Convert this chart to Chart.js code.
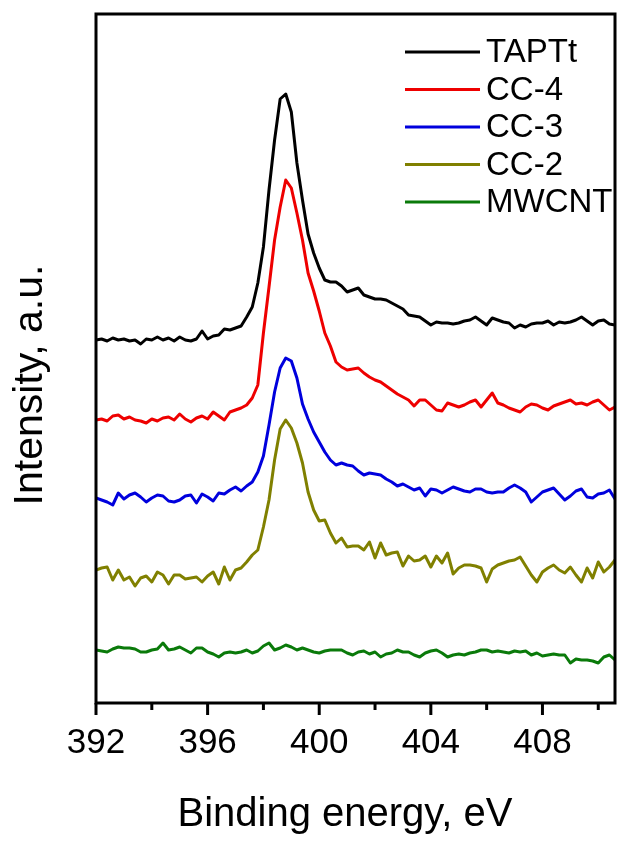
<!DOCTYPE html>
<html>
<head>
<meta charset="utf-8">
<script src="https://cdn.jsdelivr.net/npm/chart.js@4.4.1/dist/chart.umd.min.js"></script>
<style>
  html, body { margin: 0; padding: 0; background: #fff; }
  #wrap { width: 621px; height: 841px; position: relative; }
</style>
</head>
<body>
<div id="wrap"><canvas id="c"></canvas></div>
<script>
// Binding energy grid, eV
const energy = [
  392.0, 392.2, 392.4, 392.6, 392.8, 393.0, 393.2, 393.4, 393.6, 393.8,
  394.0, 394.2, 394.4, 394.6, 394.8, 395.0, 395.2, 395.4, 395.6, 395.8,
  396.0, 396.2, 396.4, 396.6, 396.8, 397.0, 397.2, 397.4, 397.6, 397.8,
  398.0, 398.2, 398.4, 398.6, 398.8, 399.0, 399.2, 399.4, 399.6, 399.8,
  400.0, 400.2, 400.4, 400.6, 400.8, 401.0, 401.2, 401.4, 401.6, 401.8,
  402.0, 402.2, 402.4, 402.6, 402.8, 403.0, 403.2, 403.4, 403.6, 403.8,
  404.0, 404.2, 404.4, 404.6, 404.8, 405.0, 405.2, 405.4, 405.6, 405.8,
  406.0, 406.2, 406.4, 406.6, 406.8, 407.0, 407.2, 407.4, 407.6, 407.8,
  408.0, 408.2, 408.4, 408.6, 408.8, 409.0, 409.2, 409.4, 409.6, 409.8,
  410.0, 410.2, 410.4, 410.6
];

// Labelled and unlabelled tick positions on the energy axis
const majorTicks = [392, 396, 400, 404, 408];
const minorTicks = [394, 398, 402, 406, 410];

// N 1s intensities (offset, arbitrary units)
const taptt = [
  363,364,362,365,363,364,362,363,359,364,
  363,366,363,365,362,366,363,362,364,372,
  364,367,368,374,373,375,377,386,396,420,
  456,513,563,604,609,591,540,503,469,450,
  435,423,421,421,417,411,413,415,408,406,
  404,404,403,400,397,394,388,387,386,382,
  378,381,380,380,379,380,382,383,386,382,
  378,385,383,381,380,375,378,376,379,380,
  380,382,378,381,380,381,383,386,382,378,
  382,383,379,378
];
const cc4 = [
  283,284,282,287,288,284,286,283,282,280,
  284,282,285,286,283,289,284,281,285,287,
  284,291,287,283,291,293,295,298,305,318,
  370,416,463,496,523,515,490,463,430,412,
  392,370,357,341,336,333,334,335,330,326,
  323,321,317,313,309,306,303,297,303,303,
  298,293,292,300,298,296,298,301,303,296,
  303,310,300,298,295,293,291,296,299,298,
  295,293,297,299,301,303,299,300,298,301,
  303,298,293,296
];
const cc3 = [
  205,203,201,198,210,204,208,210,206,201,
  205,208,207,202,201,203,207,208,200,209,
  206,202,210,209,213,216,212,217,221,231,
  247,278,311,335,345,342,325,299,284,271,
  261,251,243,238,240,238,237,232,228,230,
  229,228,224,221,217,219,216,213,215,207,
  214,213,210,213,216,214,212,211,214,214,
  211,210,211,211,215,218,215,211,201,206,
  211,213,215,209,203,207,212,214,206,205,
  209,210,213,204
];
const cc2 = [
  133,135,136,123,133,123,126,117,125,127,
  121,131,128,119,128,128,124,125,126,121,
  127,131,119,136,123,133,135,141,148,153,
  176,203,243,274,283,275,260,240,211,193,
  182,183,170,160,165,156,157,157,153,161,
  145,160,148,150,151,137,147,142,143,147,
  136,147,140,150,129,135,138,138,137,135,
  121,134,138,140,142,143,146,137,128,121,
  131,135,138,133,130,136,128,121,135,125,
  141,131,136,143
];
const mwcnt = [
  53,52,51,54,56,55,55,54,51,51,
  53,54,60,53,54,56,53,50,55,55,
  51,49,46,50,51,50,51,53,50,52,
  57,60,53,55,58,56,53,55,53,51,
  50,52,53,53,53,50,48,51,52,49,
  51,46,49,50,53,51,51,48,46,50,
  52,53,50,46,48,49,48,50,51,53,
  53,51,52,51,50,52,51,52,48,50,
  47,48,49,48,48,40,44,43,43,42,
  40,46,48,43
];

const seriesNames = ['TAPTt', 'CC-4', 'CC-3', 'CC-2', 'MWCNT'];
const seriesValues = [taptt, cc4, cc3, cc2, mwcnt];
const seriesColors = ['#000000', '#ee0000', '#0000dd', '#808000', '#0a7a0a'];

const xTitle = 'Binding energy, eV';
const yTitle = 'Intensity, a.u.';

const FONT = '"Liberation Sans", Arial, sans-serif';

const datasets = seriesNames.map((name, k) => ({
  label: name,
  data: energy.map((e, i) => ({ x: e, y: seriesValues[k][i] })),
  borderColor: seriesColors[k],
  backgroundColor: seriesColors[k],
  borderWidth: 3,
  pointRadius: 0,
  tension: 0,
  borderJoinStyle: 'round',
  fill: false
}));

// Inside legend, box frame, outward tick marks and axis titles
const decorations = {
  id: 'decorations',
  afterDatasetsDraw(chart) {
    const { ctx, chartArea: a, scales: { x } } = chart;
    ctx.save();

    // legend in the upper right corner of the plot
    ctx.font = '33px ' + FONT;
    ctx.textBaseline = 'middle';
    ctx.textAlign = 'left';
    chart.data.datasets.forEach((ds, k) => {
      const yy = a.top + 38 + k * 37.5;
      ctx.strokeStyle = ds.borderColor;
      ctx.lineWidth = 3;
      ctx.beginPath();
      ctx.moveTo(a.right - 210, yy);
      ctx.lineTo(a.right - 135, yy);
      ctx.stroke();
      ctx.fillStyle = '#000';
      ctx.fillText(ds.label, a.right - 129, yy + 1);
    });

    // plot frame
    ctx.strokeStyle = '#000';
    ctx.lineWidth = 3;
    ctx.strokeRect(a.left, a.top, a.right - a.left, a.bottom - a.top);

    // major and minor ticks below the energy axis
    const tick = (v, len) => {
      const px = x.getPixelForValue(v);
      ctx.beginPath();
      ctx.moveTo(px, a.bottom);
      ctx.lineTo(px, a.bottom + len);
      ctx.stroke();
    };
    majorTicks.forEach(v => tick(v, 12));
    minorTicks.forEach(v => tick(v, 7));

    // axis titles
    ctx.fillStyle = '#000';
    ctx.textAlign = 'center';
    ctx.textBaseline = 'middle';
    ctx.font = '40px ' + FONT;
    ctx.fillText(xTitle, a.left + 249, a.bottom + 112);
    ctx.save();
    ctx.translate(31, a.top + 371);
    ctx.rotate(-Math.PI / 2);
    ctx.font = '41px ' + FONT;
    ctx.fillText(yTitle, 0, 0);
    ctx.restore();

    ctx.restore();
  }
};

new Chart(document.getElementById('c'), {
  type: 'line',
  data: { datasets },
  options: {
    responsive: true,
    maintainAspectRatio: false,
    animation: false,
    devicePixelRatio: 1,
    layout: { padding: { top: 14, right: 6, left: 0, bottom: 0 } },
    plugins: { legend: { display: false }, tooltip: { enabled: false } },
    scales: {
      x: {
        type: 'linear',
        min: 392,
        max: 410.6,
        grid: { display: false, drawTicks: false },
        border: { display: false },
        afterBuildTicks: s => { s.ticks = majorTicks.map(v => ({ value: v })); },
        ticks: {
          color: '#000',
          font: { family: FONT, size: 35 },
          padding: 19,
          maxRotation: 0,
          autoSkip: false,
          callback: v => String(v)
        },
        title: { display: false },
        afterFit: s => { s.height = 138; }
      },
      y: {
        type: 'linear',
        min: 0,
        max: 689,
        grid: { display: false, drawTicks: false },
        border: { display: false },
        ticks: { display: false },
        title: { display: false },
        afterFit: s => { s.width = 96; }
      }
    }
  },
  plugins: [decorations]
});
</script>
</body>
</html>
